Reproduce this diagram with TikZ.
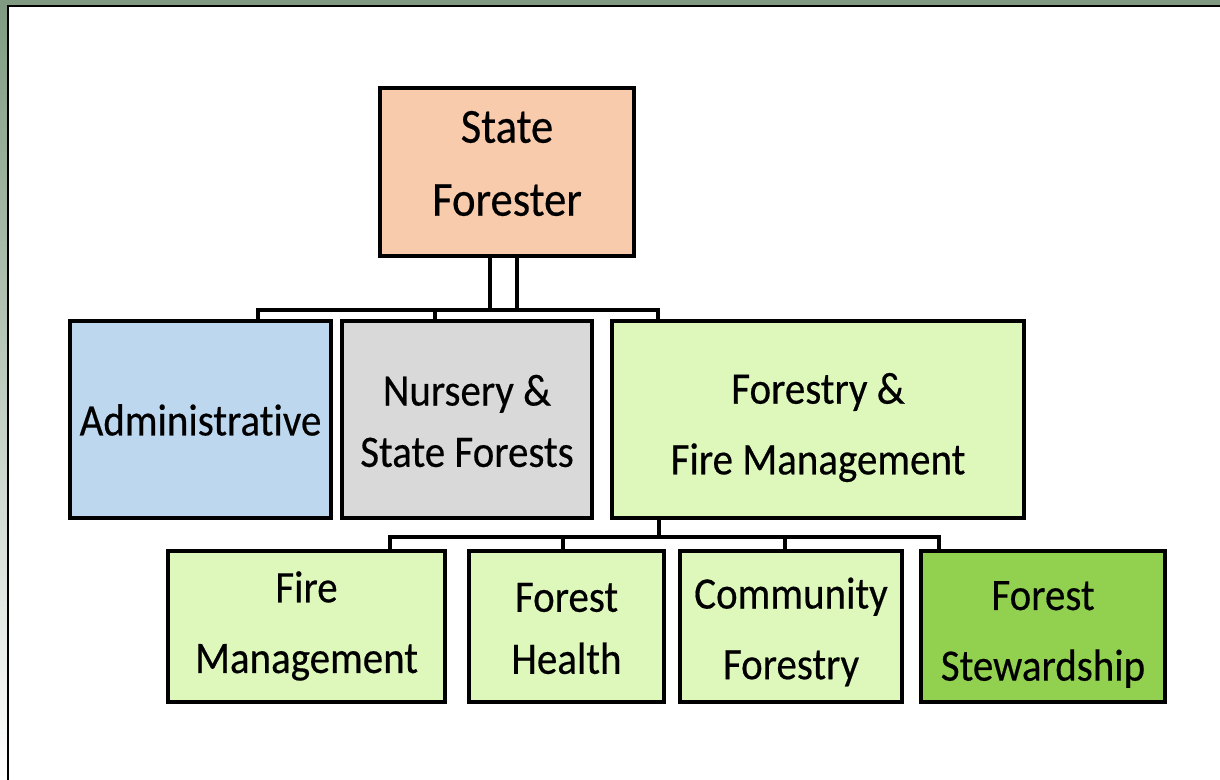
\documentclass[tikz,border=0pt]{standalone}
\usepackage{fontspec}
\setmainfont{Carlito}[FakeStretch=0.91, FakeBold=0.4, Ligatures=NoCommon]
\usetikzlibrary{positioning}

\definecolor{frameGreen}{RGB}{127,154,128}
\definecolor{peach}{RGB}{248,203,173}
\definecolor{paleBlue}{RGB}{189,215,238}
\definecolor{paleGray}{RGB}{217,217,217}
\definecolor{paleGreen}{RGB}{221,248,186}
\definecolor{grassGreen}{RGB}{146,208,80}

\tikzset{
  box/.style={draw=black, line width=2.6pt, inner sep=0pt},
  caption/.style={align=center, inner sep=0pt, font=\fontsize{33.75}{53}\selectfont},
  link/.style={draw=black, line width=2.6pt},
}

\begin{document}
\begin{tikzpicture}[x=0.75pt,y=0.75pt,yscale=-1,xscale=1]
\useasboundingbox (0,0) rectangle (1220,780);

%Shape: Frame
\shade [top color=frameGreen, bottom color=white] (0,0) rectangle (9,780);
\fill [frameGreen] (0,0) rectangle (1220,7);
\fill [white] (9,7) rectangle (1220,780);
\draw [line width=1.5pt] (8,780) -- (8,6) -- (1220,6);

%Shape: Rectangle [State Forester]
\node [box, fill=peach, minimum width=190.5pt, minimum height=126pt] (sf) at (507,172) {};

%Shape: Rectangle [second row]
\node [box, fill=paleBlue, minimum width=195.75pt, minimum height=147.75pt] (admin) at (200.5,419.5) {};
\node [box, fill=paleGray, minimum width=187.5pt, minimum height=147.75pt] (nursery) at (467,419.5) {};
\node [box, fill=paleGreen, minimum width=309pt, minimum height=147.75pt] (forestry) at (818,419.5) {};

%Shape: Rectangle [third row]
\node [box, fill=paleGreen, minimum width=207.75pt, minimum height=113.25pt] (fire) at (306.5,626.5) {};
\node [box, fill=paleGreen, minimum width=146.25pt, minimum height=113.25pt] (health) at (566.5,626.5) {};
\node [box, fill=paleGreen, minimum width=166.5pt, minimum height=113.25pt] (community) at (791,626.5) {};
\node [box, fill=grassGreen, minimum width=183pt, minimum height=113.25pt] (steward) at (1043,626.5) {};

% Text Node
\node [caption, font=\fontsize{36.75}{54.75}\selectfont] (sfText) at (507,163.5) {State\\Forester};
% Text Node
\node [caption] (adminText) at (200.5,420) {Administrative};
% Text Node
\node [caption, font=\fontsize{33.75}{46}\selectfont] (nurseryText) at (467,421) {Nursery \&\\State Forests};
% Text Node
\node [caption] (forestryText) at (818,427.5) {Forestry \&\\Fire Management};
% Text Node
\node [caption] (fireText) at (306.5,626) {Fire\\Management};
% Text Node
\node [caption, font=\fontsize{33.75}{46.5}\selectfont] (healthText) at (566.5,628.5) {Forest\\Health};
% Text Node
\node [caption] (communityText) at (791,632) {Community\\Forestry};
% Text Node
\node [caption] (stewardText) at (1043,634.5) {Forest\\Stewardship};

%Straight Lines [State Forester to second row]
\coordinate (v1) at (490,310);
\coordinate (v2) at (517,310);
\coordinate (j1) at (258,310);
\coordinate (j2) at (435,310);
\coordinate (j3) at (658,310);
\draw [link] (sf.south -| v1) -- (v1);
\draw [link] (sf.south -| v2) -- (v2);
\draw [link] (admin.north -| j1) -- (j1) -- (j3) -- (forestry.north -| j3);
\draw [link] (j2) -- (nursery.north -| j2);

%Straight Lines [Forestry to third row]
\coordinate (k0) at (659,537);
\coordinate (k1) at (390,537);
\coordinate (k2) at (563,537);
\coordinate (k3) at (785,537);
\coordinate (k4) at (939,537);
\draw [link] (forestry.south -| k0) -- (k0);
\draw [link] (fire.north -| k1) -- (k1) -- (k4) -- (steward.north -| k4);
\draw [link] (k2) -- (health.north -| k2);
\draw [link] (k3) -- (community.north -| k3);

\end{tikzpicture}
\end{document}
